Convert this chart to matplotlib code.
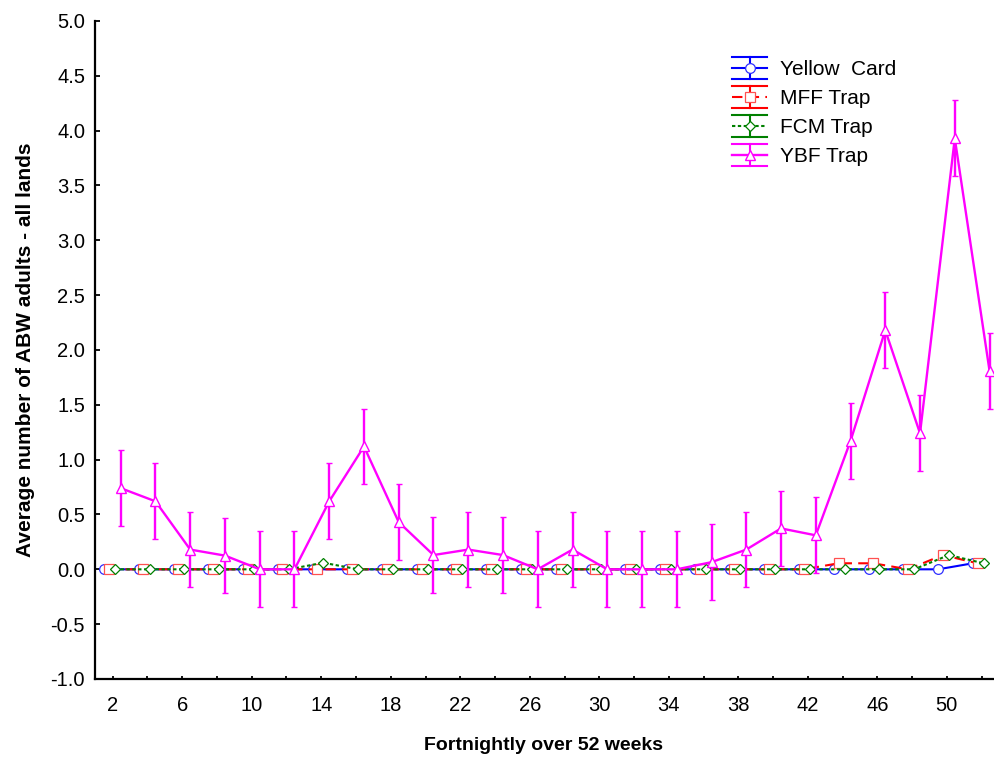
import numpy as np
import matplotlib
matplotlib.use('Agg')
import matplotlib.pyplot as plt
from matplotlib.lines import Line2D
from matplotlib.legend_handler import HandlerBase
from matplotlib.ticker import FormatStrFormatter

# Дані: середня кількість ABW по двотижневих періодах
weeks = [2, 4, 6, 8, 10, 12, 14, 16, 18, 20, 22, 24, 26,
         28, 30, 32, 34, 36, 38, 40, 42, 44, 46, 48, 50, 52]
yellow_card = [0, 0, 0, 0, 0, 0, 0, 0, 0, 0, 0, 0, 0,
               0, 0, 0, 0, 0, 0, 0, 0, 0, 0, 0, 0, 0.055]
mff_trap = [0, 0, 0, 0, 0, 0, 0, 0, 0, 0, 0, 0, 0,
            0, 0, 0, 0, 0, 0, 0, 0, 0.055, 0.055, 0, 0.13, 0.055]
fcm_trap = [0, 0, 0, 0, 0, 0, 0.06, 0, 0, 0, 0, 0, 0,
            0, 0, 0, 0, 0, 0, 0, 0, 0, 0, 0, 0.13, 0.055]
ybf_trap = [0.74, 0.62, 0.18, 0.125, 0.0, 0.0, 0.62, 1.12, 0.43, 0.13, 0.18, 0.13, 0.0,
            0.18, 0.0, 0.0, 0.0, 0.065, 0.18, 0.373, 0.31, 1.17, 2.18, 1.24, 3.93, 1.81]
ybf_err = [0.345, 0.345, 0.345, 0.345, 0.345, 0.345, 0.345, 0.345, 0.345, 0.345, 0.345, 0.345, 0.345,
           0.345, 0.345, 0.345, 0.345, 0.345, 0.345, 0.345, 0.345, 0.345, 0.345, 0.345, 0.345, 0.345]
labels = ["Yellow  Card", "MFF Trap", "FCM Trap", "YBF Trap"]
xtick_labels = [str(w) if i % 2 == 0 else "" for i, w in enumerate(weeks)]


class ErrHandler(HandlerBase):
    # легенда у стилі Statistica: три горизонтальні лінії + вертикальна + маркер
    def create_artists(self, legend, orig, xdescent, ydescent, width, height, fontsize, trans):
        c = orig.get_color()
        x0, x1 = -xdescent, width - xdescent
        xm = (x0 + x1) / 2
        yc = height / 2 - ydescent
        gap = 0.53 * fontsize
        arts = []
        for yy in (yc - gap, yc + gap):
            arts.append(Line2D([x0, x1], [yy, yy], color=c, lw=1.5))
        mid = Line2D([x0, x1], [yc, yc])
        mid.update_from(orig)
        mid.set_marker('None')
        arts.append(mid)
        arts.append(Line2D([xm, xm], [yc - gap, yc + gap], color=c, lw=1.5))
        mk = Line2D([xm], [yc])
        mk.update_from(orig)
        mk.set_linestyle('None')
        arts.append(mk)
        for a in arts:
            a.set_transform(trans)
        return arts


plt.rcParams['font.family'] = ['Liberation Sans', 'DejaVu Sans']
plt.rcParams['axes.unicode_minus'] = False

fig = plt.figure(figsize=(9.94, 7.6), dpi=100)
ax = fig.add_axes([0.0953, 0.1066, 0.9037, 0.8658])

x = np.array(weeks, dtype=float)
styles = [
    dict(color='#0000ff', ls='-', marker='o', ms=7, mec='#3030ff', off=-0.5),
    dict(color='#ff0000', ls=(0, (5, 3)), marker='s', ms=7, mec='#ff5050', off=-0.23),
    dict(color='#008000', ls=(0, (1.6, 1.2)), marker='D', ms=5.5, mec='#008000', off=0.12),
]
series = [yellow_card, mff_trap, fcm_trap]
proxies = []
for vals, st, lab in zip(series, styles, labels):
    kw = dict(color=st['color'], linestyle=st['ls'], lw=1.5, marker=st['marker'],
              ms=st['ms'], mfc='white', mec=st['mec'], mew=0.9)
    ax.plot(x + st['off'], vals, **kw)
    proxies.append(Line2D([], [], **kw))

ybf_kw = dict(color='#ff00ff', linestyle='-', lw=1.7, marker='^', ms=7.5,
              mfc='white', mec='#ff00ff', mew=1.0)
ax.errorbar(x + 0.46, ybf_trap, yerr=ybf_err, elinewidth=1.7, capsize=2.5,
            capthick=1.7, ecolor='#ff00ff', **ybf_kw)
proxies.append(Line2D([], [], **ybf_kw))

ax.set_xlim(0.964, 52.66)
ax.set_ylim(-1.0, 5.0)
ax.set_xticks(weeks)
ax.set_xticklabels(xtick_labels)
ax.set_yticks(np.arange(-1.0, 5.01, 0.5))
ax.yaxis.set_major_formatter(FormatStrFormatter('%.1f'))

for s in ['top', 'right']:
    ax.spines[s].set_visible(False)
for s in ['left', 'bottom']:
    ax.spines[s].set_linewidth(1.6)
ax.tick_params(axis='y', direction='in', length=3.5, width=1.3, labelsize=14.5, pad=7)
ax.tick_params(axis='x', direction='in', length=2.2, width=1.3, labelsize=14.5, pad=12)

ax.set_xlabel("Fortnightly over 52 weeks", fontsize=14, fontweight='bold', labelpad=16)
ax.set_ylabel("Average number of ABW adults - all lands", fontsize=15, fontweight='bold', labelpad=11)

fig.legend(proxies, labels, handler_map={Line2D: ErrHandler()},
           loc='upper left', bbox_to_anchor=(732 / 994, 1 - 60 / 760),
           bbox_transform=fig.transFigure, frameon=False, fontsize=15,
           borderpad=0, borderaxespad=0, handlelength=1.7, handletextpad=0.6,
           labelspacing=0.48)

fig.savefig('out.png', dpi=100)
